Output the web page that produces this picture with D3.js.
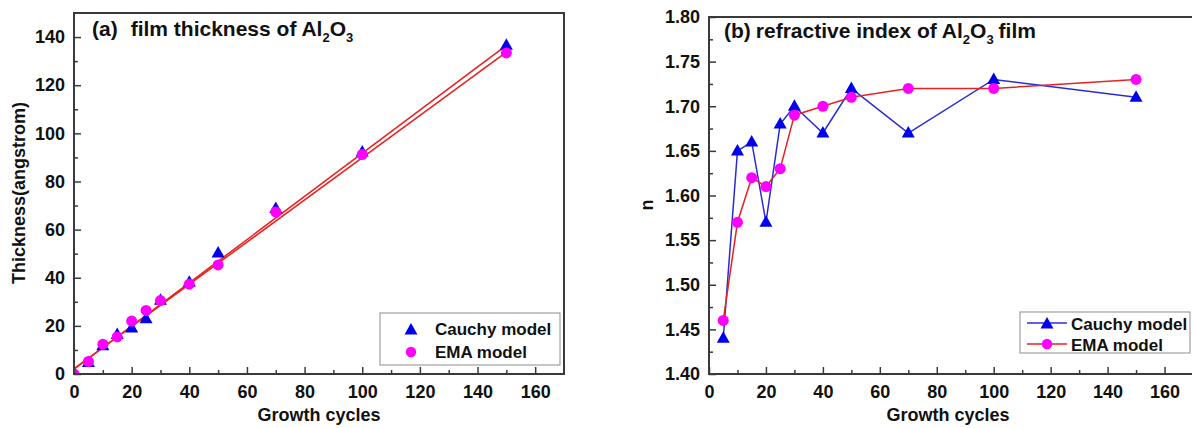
<!DOCTYPE html>
<html>
<head>
<meta charset="utf-8">
<script src="https://cdn.jsdelivr.net/npm/d3@7"></script>
<style>
html,body{margin:0;padding:0;background:#fff;}
svg{display:block;}
text{font-family:"Liberation Sans",Arial,sans-serif;font-weight:bold;fill:#111;}
</style>
</head>
<body>
<svg id="chart" width="1192" height="428"></svg>
<script>
// ---- data ----
const thickCycles = [0, 5, 10, 15, 20, 25, 30, 40, 50, 70, 100, 150];
const thickCauchy = [0, 4.8, 11.7, 16.4, 19.1, 23.0, 30.6, 38.1, 50.3, 68.8, 92.2, 136.6];
const thickEMA    = [0, 5.2, 12.4, 15.4, 22.0, 26.4, 30.5, 37.3, 45.3, 67.3, 91.2, 133.4];
// linear fits [slope, intercept], drawn from x = 0 to 150
const fitCauchy = [0.897, 2.0];
const fitEMA    = [0.877, 2.2];
const fitRange  = [0, 150];

const nCycles = [5, 10, 15, 20, 25, 30, 40, 50, 70, 100, 150];
const nCauchy = [1.44, 1.65, 1.66, 1.57, 1.68, 1.70, 1.67, 1.72, 1.67, 1.73, 1.71];
const nEMA    = [1.46, 1.57, 1.62, 1.61, 1.63, 1.69, 1.70, 1.71, 1.72, 1.72, 1.73];

const xTicks = [0, 20, 40, 60, 80, 100, 120, 140, 160];
const xMinor = [10, 30, 50, 70, 90, 110, 130, 150];
const yTicksA = [0, 20, 40, 60, 80, 100, 120, 140];
const yMinorA = [10, 30, 50, 70, 90, 110, 130];
const yTicksB = [1.40, 1.45, 1.50, 1.55, 1.60, 1.65, 1.70, 1.75, 1.80];
const yMinorB = [1.425, 1.475, 1.525, 1.575, 1.625, 1.675, 1.725, 1.775];
const seriesNames = ["Cauchy model", "EMA model"];

// ---- styles ----
const BLUE = "#0000ee", MAG = "#ff00ff", RED = "#e82222", LBLUE = "#2b2bd6";
const FRAME = "#3a3a3a";
const triPath = "M0,-7L6.5,4.5L-6.5,4.5Z";

const svg = d3.select("#chart");

function frameAxes(g, x, y, yTicks, yMinor, yFmt) {
  const [x0, x1] = x.range();
  const [y0, y1] = y.range();
  g.append("g").attr("transform", `translate(0,${y0})`)
    .call(d3.axisBottom(x).tickValues(xMinor).tickSize(-4).tickFormat(""))
    .call(s => s.select(".domain").remove())
    .selectAll("line").attr("stroke", FRAME).attr("stroke-width", 1.5);
  g.append("g").attr("transform", `translate(${x0},0)`)
    .call(d3.axisLeft(y).tickValues(yMinor).tickSize(-4).tickFormat(""))
    .call(s => s.select(".domain").remove())
    .selectAll("line").attr("stroke", FRAME).attr("stroke-width", 1.5);
  const ax = g.append("g").attr("transform", `translate(0,${y0})`)
    .call(d3.axisBottom(x).tickValues(xTicks).tickSize(-7).tickPadding(11).tickFormat(d3.format("d")));
  ax.select(".domain").remove();
  ax.selectAll("line").attr("stroke", FRAME).attr("stroke-width", 1.5);
  ax.selectAll("text").attr("font-size", 18).attr("fill", "#111")
    .attr("font-family", '"Liberation Sans",Arial,sans-serif').attr("font-weight", "bold");
  const ay = g.append("g").attr("transform", `translate(${x0},0)`)
    .call(d3.axisLeft(y).tickValues(yTicks).tickSize(-7).tickPadding(9).tickFormat(yFmt));
  ay.select(".domain").remove();
  ay.selectAll("line").attr("stroke", FRAME).attr("stroke-width", 1.5);
  ay.selectAll("text").attr("font-size", 18).attr("fill", "#111")
    .attr("font-family", '"Liberation Sans",Arial,sans-serif').attr("font-weight", "bold");
  g.append("rect").attr("x", x0).attr("y", y1).attr("width", x1 - x0).attr("height", y0 - y1)
    .attr("fill", "none").attr("stroke", FRAME).attr("stroke-width", 2);
}

function title(g, x, yb, label, gap, prefix, tail) {
  const t = g.append("text").attr("x", x).attr("y", yb).attr("font-size", 21);
  t.append("tspan").text(label);
  t.append("tspan").attr("dx", gap).text(prefix);
  t.append("tspan").attr("font-size", 13).attr("dy", 6).text("2");
  t.append("tspan").attr("dy", -6).text("O");
  t.append("tspan").attr("font-size", 13).attr("dy", 6).text("3");
  if (tail) t.append("tspan").attr("dy", -6).attr("dx", 5).text(tail);
}

// ================= Panel (a) =================
const xA = d3.scaleLinear().domain([0, 170]).range([74, 564]);
const yA = d3.scaleLinear().domain([0, 150]).range([374, 13]);
const gA = svg.append("g");
svg.append("clipPath").attr("id", "clipA").append("rect")
  .attr("x", 74).attr("y", 13).attr("width", 490).attr("height", 361);

const plotA = gA.append("g").attr("clip-path", "url(#clipA)");
[fitCauchy, fitEMA].forEach(f => {
  plotA.append("line")
    .attr("x1", xA(fitRange[0])).attr("y1", yA(f[0] * fitRange[0] + f[1]))
    .attr("x2", xA(fitRange[1])).attr("y2", yA(f[0] * fitRange[1] + f[1]))
    .attr("stroke", RED).attr("stroke-width", 1.6);
});
plotA.selectAll("path.tri").data(thickCycles).enter().append("path")
  .attr("d", triPath).attr("fill", BLUE)
  .attr("transform", (d, i) => `translate(${xA(d)},${yA(thickCauchy[i])})`);
plotA.selectAll("circle").data(thickCycles).enter().append("circle")
  .attr("cx", d => xA(d)).attr("cy", (d, i) => yA(thickEMA[i])).attr("r", 5.5).attr("fill", MAG);

frameAxes(gA, xA, yA, yTicksA, yMinorA, d3.format("d"));
title(gA, 92, 36, "(a)", 13, "film thickness of Al", null);

gA.append("text").attr("x", 319).attr("y", 421).attr("text-anchor", "middle").attr("font-size", 18).text("Growth cycles");
gA.append("text").attr("transform", "translate(25,193) rotate(-90)").attr("text-anchor", "middle")
  .attr("font-size", 18).text("Thickness(angstrom)");

const lgA = gA.append("g");
lgA.append("rect").attr("x", 380).attr("y", 313).attr("width", 180).attr("height", 52)
  .attr("fill", "#fff").attr("stroke", "#a0a0a0").attr("stroke-width", 1.2);
lgA.append("path").attr("d", triPath).attr("fill", BLUE).attr("transform", "translate(411,330)");
lgA.append("circle").attr("cx", 411).attr("cy", 352).attr("r", 5.2).attr("fill", MAG);
lgA.append("text").attr("x", 435).attr("y", 335).attr("font-size", 17).text(seriesNames[0]);
lgA.append("text").attr("x", 435).attr("y", 358).attr("font-size", 17).text(seriesNames[1]);

// ================= Panel (b) =================
const xB = d3.scaleLinear().domain([0, 170]).range([709, 1193]);
const yB = d3.scaleLinear().domain([1.40, 1.80]).range([374, 17]);
const gB = svg.append("g");

const lineB = (vals) => d3.line().x(d => xB(d)).y((d, i) => yB(vals[i]));
gB.append("path").datum(nCycles).attr("d", lineB(nCauchy)).attr("fill", "none")
  .attr("stroke", LBLUE).attr("stroke-width", 1.5);
gB.append("path").datum(nCycles).attr("d", lineB(nEMA)).attr("fill", "none")
  .attr("stroke", RED).attr("stroke-width", 1.5);
gB.selectAll("path.tri").data(nCycles).enter().append("path")
  .attr("class", "tri").attr("d", triPath).attr("fill", BLUE)
  .attr("transform", (d, i) => `translate(${xB(d)},${yB(nCauchy[i])})`);
gB.selectAll("circle").data(nCycles).enter().append("circle")
  .attr("cx", d => xB(d)).attr("cy", (d, i) => yB(nEMA[i])).attr("r", 5.5).attr("fill", MAG);

frameAxes(gB, xB, yB, yTicksB, yMinorB, d3.format(".2f"));
title(gB, 724, 38, "(b)", 5, "refractive index of Al", "film");

gB.append("text").attr("x", 948).attr("y", 421).attr("text-anchor", "middle").attr("font-size", 18).text("Growth cycles");
gB.append("text").attr("transform", "translate(653,205) rotate(-90)").attr("text-anchor", "middle")
  .attr("font-size", 18).text("n");

const lgB = gB.append("g");
lgB.append("rect").attr("x", 1020).attr("y", 312).attr("width", 170).attr("height", 41)
  .attr("fill", "#fff").attr("stroke", "#a0a0a0").attr("stroke-width", 1.2);
lgB.append("line").attr("x1", 1027).attr("x2", 1067).attr("y1", 323).attr("y2", 323).attr("stroke", LBLUE).attr("stroke-width", 1.5);
lgB.append("line").attr("x1", 1027).attr("x2", 1067).attr("y1", 344).attr("y2", 344).attr("stroke", RED).attr("stroke-width", 1.5);
lgB.append("path").attr("d", triPath).attr("fill", BLUE).attr("transform", "translate(1047,324)");
lgB.append("circle").attr("cx", 1047).attr("cy", 344).attr("r", 5.2).attr("fill", MAG);
lgB.append("text").attr("x", 1071).attr("y", 330).attr("font-size", 17).text(seriesNames[0]);
lgB.append("text").attr("x", 1071).attr("y", 351).attr("font-size", 17).text(seriesNames[1]);
</script>
</body>
</html>
